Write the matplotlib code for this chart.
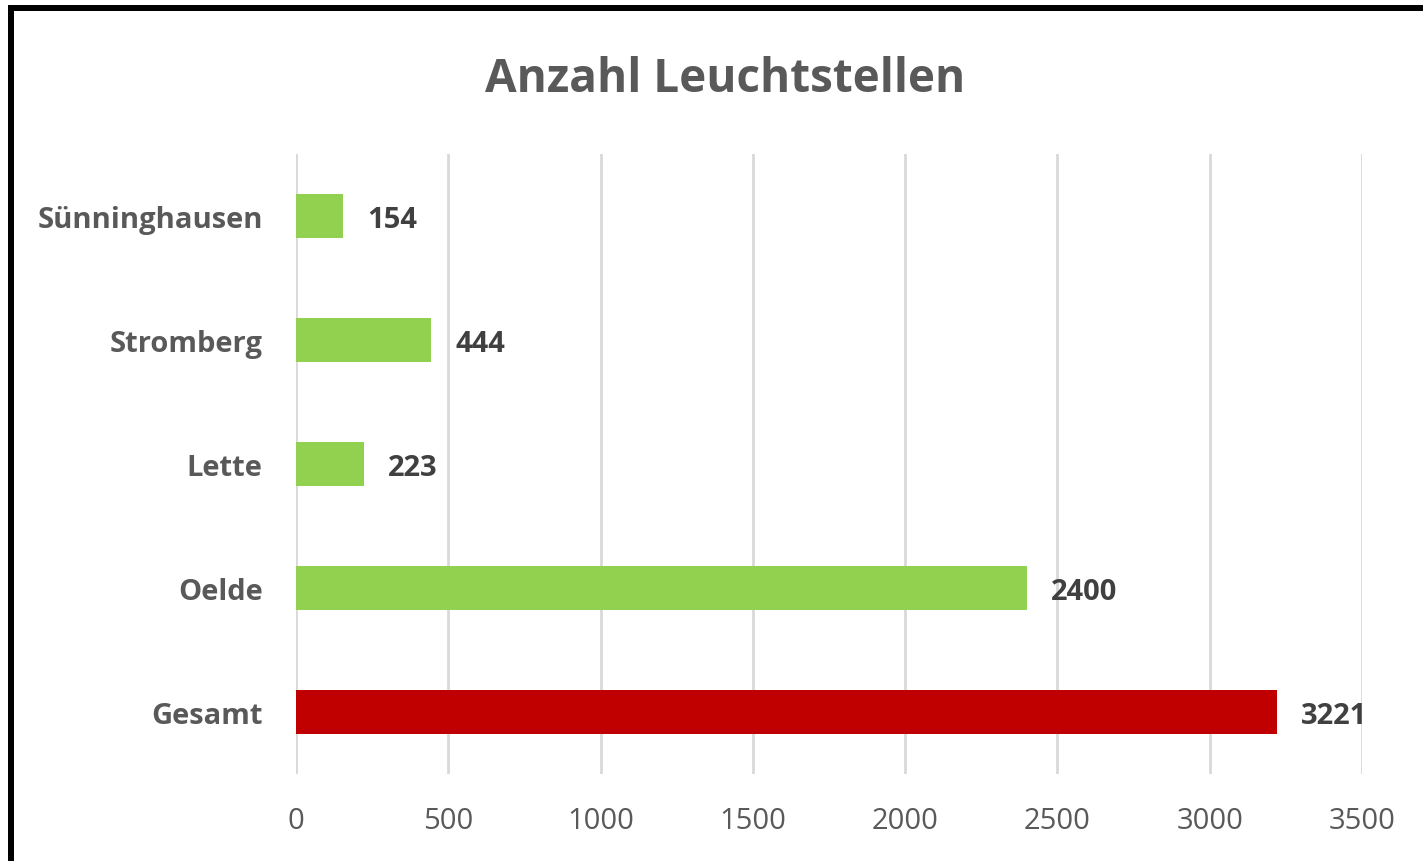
import matplotlib
matplotlib.use("Agg")
import matplotlib.pyplot as plt
from matplotlib.patches import Rectangle

categories = ["Gesamt", "Oelde", "Lette", "Stromberg", "Sünninghausen"]
values = [3221, 2400, 223, 444, 154]
colors = ["#C00000", "#92D050", "#92D050", "#92D050", "#92D050"]
xticks = [0, 500, 1000, 1500, 2000, 2500, 3000, 3500]
title = "Anzahl Leuchtstellen"

plt.rcParams['font.family'] = ['Open Sans', 'DejaVu Sans']

W, H = 1423, 862
fig = plt.figure(figsize=(W / 100, H / 100), dpi=100)
ax = fig.add_axes([296 / W, 1 - 775 / H, (1362 - 296) / W, (775 - 155) / H])

ypos = list(range(len(categories)))
ax.barh(ypos, values, height=0.355, color=colors, zorder=3)
ax.set_xlim(0, 3500)
ax.set_ylim(-0.5, 4.5)
ax.set_xticks(xticks)
ax.set_xticklabels([str(t) for t in xticks], fontsize=21, color="#595959")
ax.set_yticks(ypos)
ax.set_yticklabels(categories, fontsize=21, color="#595959", fontweight="bold")
ax.tick_params(axis="both", length=0)
ax.tick_params(axis="x", pad=23)
ax.tick_params(axis="y", pad=24)
ax.grid(axis="x", color="#D9D9D9", linewidth=2, zorder=0)
for s in ax.spines.values():
    s.set_visible(False)

for y, v in zip(ypos, values):
    ax.annotate(str(v), (v, y), xytext=(24, -3), textcoords="offset pixels",
                va="center", ha="left", fontsize=21, fontweight="bold", color="#404040")

fig.text(725 / W, 1 - 92 / H, title, ha="center", va="baseline", fontsize=33,
         fontweight="bold", color="#595959")

# border (left and top)
fig.add_artist(Rectangle((8 / W, 0), 6 / W, 1 - 6 / H, transform=fig.transFigure,
                         color="black", lw=0))
fig.add_artist(Rectangle((8 / W, 1 - 12 / H), 1 - 8 / W, 6 / H, transform=fig.transFigure,
                         color="black", lw=0))

fig.savefig("out.png", dpi=100)
